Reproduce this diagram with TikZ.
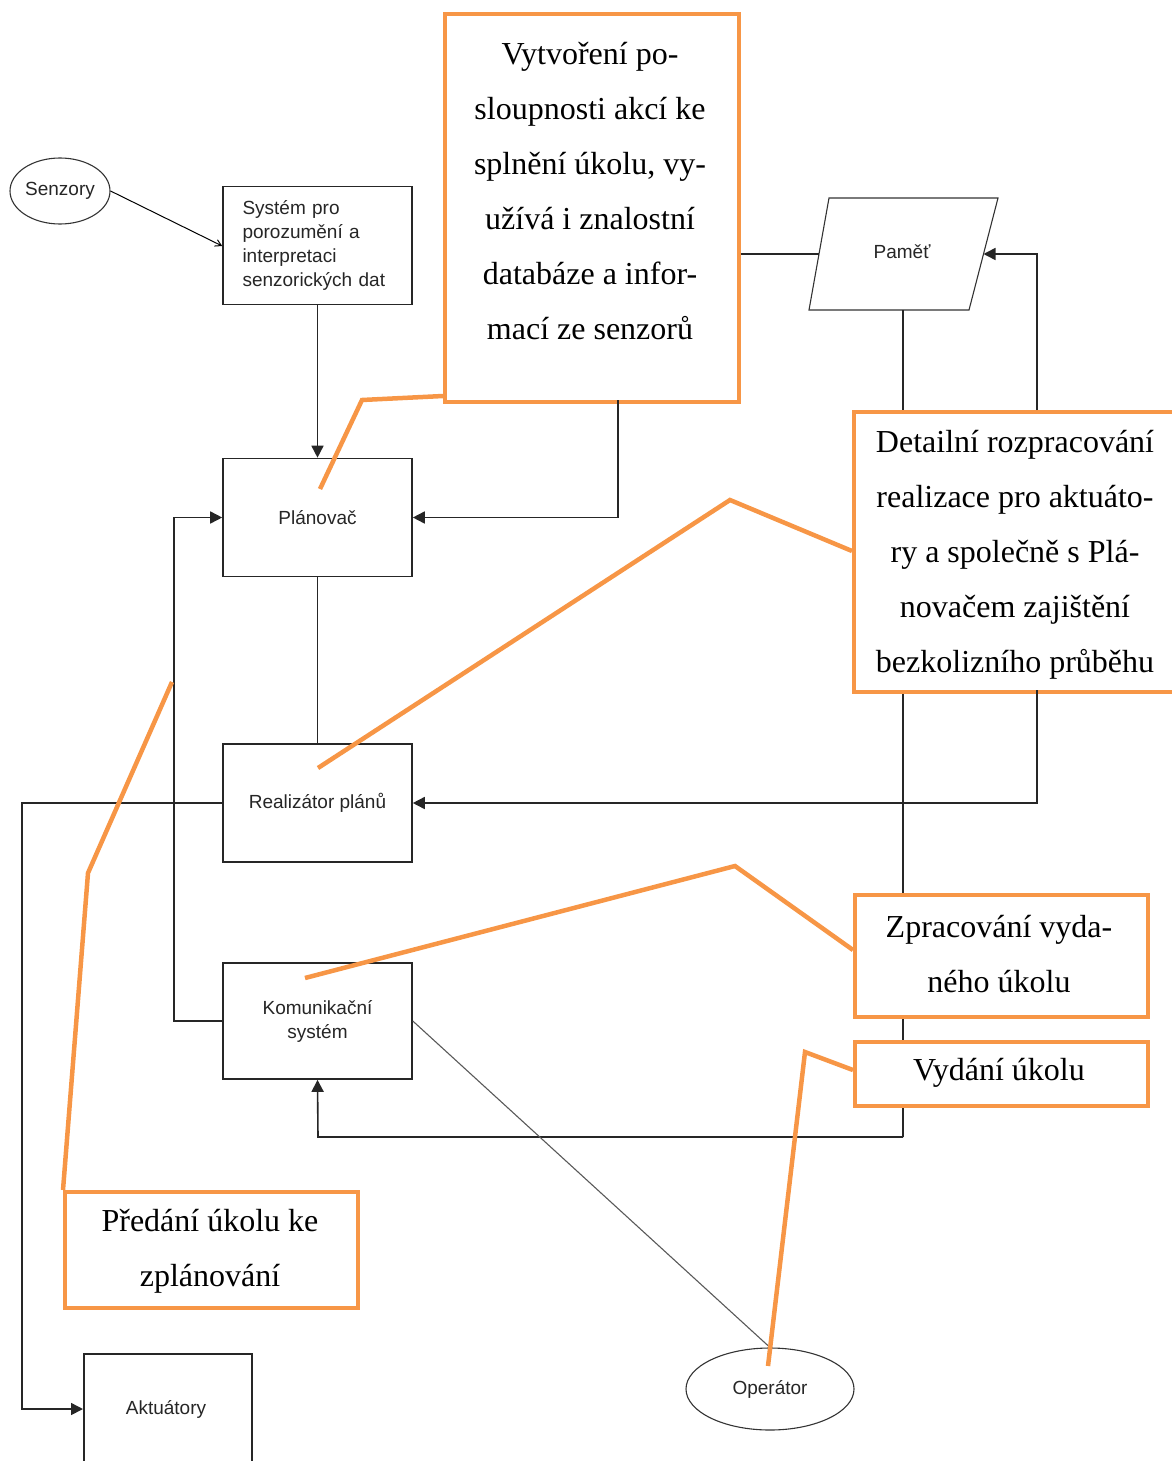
\documentclass[tikz,border=0pt]{standalone}
\usepackage{fontspec}
\setmainfont{Liberation Serif}
\newfontfamily\boxfont{Liberation Sans}
\usetikzlibrary{arrows.meta,shapes.geometric}
\definecolor{callorange}{HTML}{F79646}
\tikzset{
  labelfont/.style={font=\boxfont\fontsize{19}{24}\selectfont, text=black!85},
  block/.style={draw=black!85, line width=1.6pt, fill=white, minimum width=189pt, minimum height=118pt,
    labelfont, align=center, inner sep=0pt},
  oval/.style={draw=black!80, line width=1.1pt, ellipse, fill=white, inner sep=0pt, labelfont},
  link/.style={line width=1.6pt, draw=black!85},
  tip/.style={-{Triangle[length=12pt,width=12pt]}},
  callout/.style={draw=callorange, line width=4pt, fill=white, inner sep=0pt},
  calltext/.style={font=\fontsize{32}{55}\selectfont, align=center},
  pointer/.style={draw=callorange, line width=4.5pt},
}
\begin{document}
\begin{tikzpicture}[x=1pt, y=-1pt]
\useasboundingbox (0,0) rectangle (1171,1461);

% functional blocks
\node[oval, minimum width=100pt, minimum height=66pt] (senz) at (60,191) {Senzory};
\node[block, text width=150pt, align=left] (sys) at (317.5,245.5) {Systém pro\\porozumění a\\interpretaci\\senzorických dat};
\node[block] (plan) at (317.5,517.5) {Plánovač};
\node[block] (real) at (317.5,803) {Realizátor plánů};
\node[block, minimum height=116pt] (kom) at (317.5,1021) {Komunikační\\systém};
\node[draw=black!85, line width=1.6pt, fill=white, minimum width=168pt, minimum height=140pt,
  anchor=north west] (akt) at (83,1353) {};
\node[labelfont] (akttext) at (166,1409) {Aktuátory};
\node[oval, minimum width=168pt, minimum height=82pt] (oper) at (770,1389) {Operátor};

% memory store as a slanted box
\coordinate (pamTL) at (829,198);
\coordinate (pamTR) at (998,198);
\coordinate (pamBR) at (969,310);
\coordinate (pamBL) at (809,310);
\draw[line width=1.1pt, draw=black!80, fill=white] (pamTL) -- (pamTR) -- (pamBR) -- (pamBL) -- cycle;
\node[labelfont] (pam) at (902,252) {Paměť};
\coordinate (pamW) at (819,254);
\coordinate (pamE) at (983.5,254);
\coordinate (pamS) at (903,310);

% connectors
\coordinate (memfoot) at (903,1137);
\draw[line width=1pt, -{Straight Barb[length=6pt,width=7pt]}] (senz.east) -- (sys.west |- 0,246);
\draw[link, tip] (sys.south) -- (plan.north);
\draw[link] (plan.south) -- (real.north);
\draw[link, tip] (kom.west) -- (174,1021) -- (174,517.5) -- (plan.west);
\draw[link, tip] (real.west) -- (22,803) -- (22,1409) -- (akt.west |- 0,1409);
\draw[link] (pamS) -- (memfoot);
\draw[link, tip] (memfoot) -- (318,1137) -- (kom.south);
\draw[line width=1.1pt, black!65] (kom.east) -- (oper.north);

% callouts
\node[callout, minimum width=294pt, minimum height=388pt, anchor=north west] (c1) at (443,12) {};
\node[callout, minimum width=340pt, minimum height=280pt, anchor=north west] (c2) at (852,410) {};
\node[callout, minimum width=293pt, minimum height=122pt, anchor=north west] (c3) at (853,893) {};
\node[callout, minimum width=293pt, minimum height=64pt, anchor=north west] (c4) at (853,1040) {};
\node[callout, minimum width=293pt, minimum height=116pt, anchor=north west] (c5) at (63,1190) {};

% connectors that run into the callout boxes
\draw[link, tip] (618,400) -- (618,517.5) -- (plan.east);
\draw[link] (c1.east |- pamW) -- (pamW);
\draw[link, tip] (1037,410) -- (1037,254) -- (pamE);
\draw[link, tip] (1037,690) -- (1037,803) -- (real.east);

% callout texts
\node[calltext] (t1) at (590,191)
  {Vytvoření po-\\sloupnosti akcí ke\\splnění úkolu, vy-\\užívá i znalostní\\databáze a infor-\\mací ze senzorů};
\node[calltext] (t2) at (1015,555)
  {Detailní rozpracování\\realizace pro aktuáto-\\ry a společně s Plá-\\novačem zajištění\\bezkolizního průběhu};
\node[calltext] (t3) at (999,954) {Zpracování vyda-\\ného úkolu};
\node[calltext] (t4) at (999,1073) {Vydání úkolu};
\node[calltext] (t5) at (210,1251) {Předání úkolu ke\\zplánování};

% callout pointers
\draw[pointer] (c1.south west |- 0,396) -- (362,400) -- (320,489);
\draw[pointer] (c2.west |- 0,551) -- (730,500) -- (318,768);
\draw[pointer] (c3.west |- 0,950) -- (735,866) -- (305,978);
\draw[pointer] (c4.west |- 0,1070) -- (805,1052) -- (768,1366);
\draw[pointer] (c5.north west) -- (88,873) -- (172,682);
\end{tikzpicture}
\end{document}
